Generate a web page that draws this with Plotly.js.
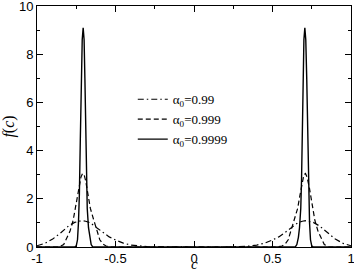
<!DOCTYPE html>
<html>
<head>
<meta charset="utf-8">
<script src="https://cdn.plot.ly/plotly-3.0.1.min.js"></script>
<style>html,body{margin:0;padding:0;background:#fff;}#plot{width:354px;height:273px;}</style>
</head>
<body>
<div id="plot"></div>
<script>
// alpha0 = 0.99 (dash-dot)
const c099 = [-1, -0.95, -0.9, -0.85, -0.8, -0.76, -0.73, -0.71, -0.69, -0.66, -0.62, -0.58, -0.54, -0.5, -0.45, -0.4, -0.35, -0.3, -0.25, -0.2, 0,
              0.2, 0.25, 0.3, 0.35, 0.4, 0.45, 0.5, 0.54, 0.58, 0.62, 0.66, 0.69, 0.71, 0.73, 0.76, 0.8, 0.85, 0.9, 0.95, 1];
const f099 = [0.05, 0.15, 0.33, 0.58, 0.87, 1.02, 1.07, 1.09, 1.07, 1.0, 0.8, 0.6, 0.42, 0.29, 0.16, 0.08, 0.035, 0.015, 0.005, 0.0, 0,
              0.0, 0.005, 0.015, 0.035, 0.08, 0.16, 0.29, 0.42, 0.6, 0.8, 1.0, 1.07, 1.09, 1.07, 1.02, 0.87, 0.58, 0.33, 0.15, 0.05];
// alpha0 = 0.999 (dashed)
const c0999 = [-1, -0.86, -0.83, -0.81, -0.79, -0.77, -0.75, -0.735, -0.72, -0.71, -0.70, -0.69, -0.675, -0.66, -0.64, -0.62, -0.6, -0.58, -0.56, -0.53, 0,
               0.53, 0.56, 0.58, 0.6, 0.62, 0.64, 0.66, 0.675, 0.69, 0.70, 0.71, 0.72, 0.735, 0.75, 0.77, 0.79, 0.81, 0.83, 0.86, 1];
const f0999 = [0, 0.0, 0.1, 0.35, 0.65, 1.1, 1.8, 2.45, 2.9, 3.05, 3.0, 2.75, 2.15, 1.6, 1.15, 0.7, 0.3, 0.12, 0.04, 0, 0,
               0, 0.04, 0.12, 0.3, 0.7, 1.15, 1.6, 2.15, 2.75, 3.0, 3.05, 2.9, 2.45, 1.8, 1.1, 0.65, 0.35, 0.1, 0.0, 0];
// alpha0 = 0.9999 (solid)
const c09999 = [-1, -0.76, -0.75, -0.742, -0.736, -0.73, -0.724, -0.718, -0.712, -0.706, -0.70, -0.695, -0.69, -0.685, -0.68, -0.672, -0.665, -0.655, -0.645, 0,
                0.645, 0.655, 0.665, 0.672, 0.68, 0.685, 0.69, 0.695, 0.70, 0.706, 0.712, 0.718, 0.724, 0.73, 0.736, 0.742, 0.75, 0.76, 1];
const f09999 = [0, 0, 0.05, 0.3, 1.0, 2.2, 4.5, 7.0, 8.6, 9.1, 8.6, 7.0, 4.8, 2.8, 1.6, 0.8, 0.4, 0.1, 0, 0,
                0, 0.1, 0.4, 0.8, 1.6, 2.8, 4.8, 7.0, 8.6, 9.1, 8.6, 7.0, 4.5, 2.2, 1.0, 0.3, 0.05, 0, 0];
const names = ['α<sub>0</sub>=0.99', 'α<sub>0</sub>=0.999', 'α<sub>0</sub>=0.9999'];
const xTicks = [-1, -0.5, 0, 0.5, 1];
const xTickText = ['-1', '-0.5', '0', '0.5', '1'];
const yTicks = [0, 2, 4, 6, 8, 10];

const traces = [
  {x: c099, y: f099, name: names[0], mode: 'lines', line: {color: '#000', width: 1.2, dash: '6px,3px,1.5px,3px'}},
  {x: c0999, y: f0999, name: names[1], mode: 'lines', line: {color: '#000', width: 1.2, dash: '5px,3px'}},
  {x: c09999, y: f09999, name: names[2], mode: 'lines', line: {color: '#000', width: 1.4}}
];
const axisCommon = {
  showgrid: false, zeroline: false, showline: true, linecolor: '#000', linewidth: 1,
  mirror: 'allticks', ticks: 'inside', ticklen: 6, tickwidth: 1, tickcolor: '#000',
  ticklabeloverflow: 'allow',
  tickfont: {family: 'Liberation Sans, Arial, sans-serif', size: 13, color: '#000'}
};
const layout = {
  width: 354, height: 273,
  margin: {l: 37, r: 3, t: 6, b: 26},
  paper_bgcolor: '#fff', plot_bgcolor: '#fff',
  showlegend: true,
  legend: {x: 0.305, y: 0.675, xanchor: 'left', yanchor: 'top', bgcolor: 'rgba(0,0,0,0)',
           font: {family: 'Liberation Serif, Times New Roman, serif', size: 13, color: '#000'},
           tracegroupgap: 0},
  xaxis: Object.assign({}, axisCommon, {
    range: [-1, 1], tickvals: xTicks, ticktext: xTickText, ticklabelstandoff: -1,
    minor: {dtick: 0.25, ticks: 'inside', ticklen: 3, tickcolor: '#000', showgrid: false}
  }),
  yaxis: Object.assign({}, axisCommon, {
    range: [0, 10], tickvals: yTicks,
    minor: {dtick: 1, ticks: 'inside', ticklen: 3, tickcolor: '#000', showgrid: false},
    title: {text: '<i>f</i>(<i>c</i>)', font: {family: 'Liberation Serif, Times New Roman, serif', size: 16, color: '#000'}, standoff: 6}
  }),
  annotations: [{
    text: '<i>c</i>', xref: 'x', x: 0, yref: 'paper', y: -26 / 241, yanchor: 'bottom',
    showarrow: false, borderpad: 0,
    font: {family: 'Liberation Serif, Times New Roman, serif', size: 15, color: '#000'}
  }]
};
Plotly.newPlot('plot', traces, layout, {displayModeBar: false, staticPlot: true});
</script>
</body>
</html>
